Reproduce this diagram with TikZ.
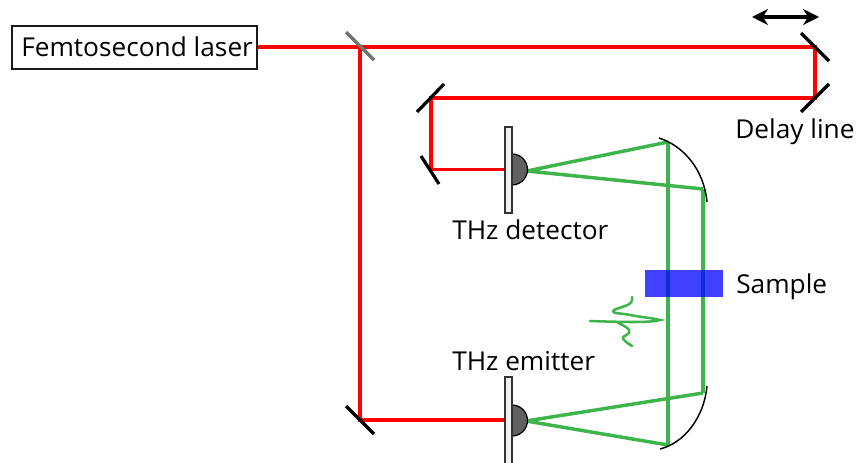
\documentclass[tikz,border=0pt]{standalone}
\usepackage{fontspec}
\setmainfont{Open Sans}[FakeStretch=1.01]
\usetikzlibrary{arrows.meta}
\definecolor{beamgreen}{HTML}{3DB54A}
\tikzset{
  x=0.75pt,y=-0.75pt,
  redbeam/.style={draw=red,line width=2.4pt},
  greenbeam/.style={draw=beamgreen,line width=2.6pt},
  mirror/.style={draw=black,line width=2.4pt},
  label/.style={anchor=base west,inner sep=0pt,font=\fontsize{19.5pt}{23pt}\selectfont},
  plate/.style={draw=black!80,fill=black!6,line width=0.9pt},
  dome/.style={draw=black,fill=black!62,line width=0.9pt},
  parab/.style={draw=black,line width=1.1pt},
}
\begin{document}
\begin{tikzpicture}
\useasboundingbox (0,0) rectangle (857,463);
% beam coordinates
\coordinate (split) at (360,47);
\coordinate (dl1) at (815,47);
\coordinate (dl2) at (815,98);
\coordinate (m1) at (431,98);
\coordinate (m2) at (431,169.5);
\coordinate (det) at (505,169.5);
\coordinate (m3) at (360,420);
\coordinate (emi) at (505,420);
\coordinate (detapex) at (527,171);
\coordinate (emiapex) at (526,421);
\coordinate (pd1) at (668,142);
\coordinate (pd2) at (703,189);
\coordinate (pe1) at (668,445);
\coordinate (pe2) at (703,393);
% laser box
\node[draw=black!90,line width=1.3pt,minimum width=245pt*0.75,minimum height=43pt*0.75,inner sep=0pt,anchor=north west] (laser) at (11,25) {};
\node[label] (lasertext) at (21,57) {Femtosecond laser};
% red beams
\draw[redbeam] (laser.east |- split) -- (dl1) -- (dl2) -- (m1) -- (m2) -- (det);
\draw[redbeam] (split) -- (m3) -- (emi);
% green beams
\draw[greenbeam,line join=round] (pd1) -- (detapex) -- (pd2);
\draw[greenbeam,line join=round] (pe2) -- (emiapex) -- (pe1);
\draw[greenbeam] (pd1) -- (pe1);
\draw[greenbeam] (pd2) -- (pe2);
% splitter and mirrors
\draw[draw=black!55,line width=2.4pt] (346,32) -- (374,60);
\draw[mirror] (801,33) -- (829,61);
\draw[mirror] (829,84) -- (801,112);
\draw[mirror] (444,84) -- (417,112);
\draw[mirror] (421,156) -- (439,184);
\draw[mirror] (346,406) -- (374,434);
% delay arrow
\draw[line width=2.4pt,{Stealth[length=12pt,width=12pt]}-{Stealth[length=12pt,width=12pt]}] (752,17) -- (819,17);
% detector
\draw[dome] (512,154) arc[start angle=90,end angle=-90,radius=15.5*0.75pt];
\draw[plate] (505,127) rectangle (512,213);
% emitter
\draw[dome] (512,405) arc[start angle=90,end angle=-90,radius=15.5*0.75pt];
\draw[plate] (505,377) rectangle (512,464);
% parabolic mirrors
\draw[parab] (659,138) .. controls (684,146) and (704,170) .. (707,202);
\draw[parab] (660,449) .. controls (684,443) and (704,418) .. (707,386);
% sample
\fill[blue,opacity=0.75] (645,270) rectangle (723,297);
% pulse
\draw[beamgreen,line width=1.9pt,line cap=round]
  (632,297) .. controls (634,306) and (622,306) .. (614,310)
  .. controls (610,314) and (622,313) .. (630,315)
  .. controls (640,317) and (652,318) .. (660,320)
  .. controls (650,323) and (620,322) .. (590,321);
\draw[beamgreen,line width=1.9pt,line cap=round]
  (617,322) .. controls (622,325) and (632,329) .. (629,333)
  .. controls (625,337) and (620,336) .. (625,341)
  .. controls (627,343) and (629,344) .. (632,346);
% labels
\node[label] (dltext) at (735,139) {Delay line};
\node[label] (dettext) at (452,239.5) {THz detector};
\node[label] (samptext) at (736,294) {Sample};
\node[label] (emitext) at (452,370) {THz emitter};
\end{tikzpicture}
\end{document}
